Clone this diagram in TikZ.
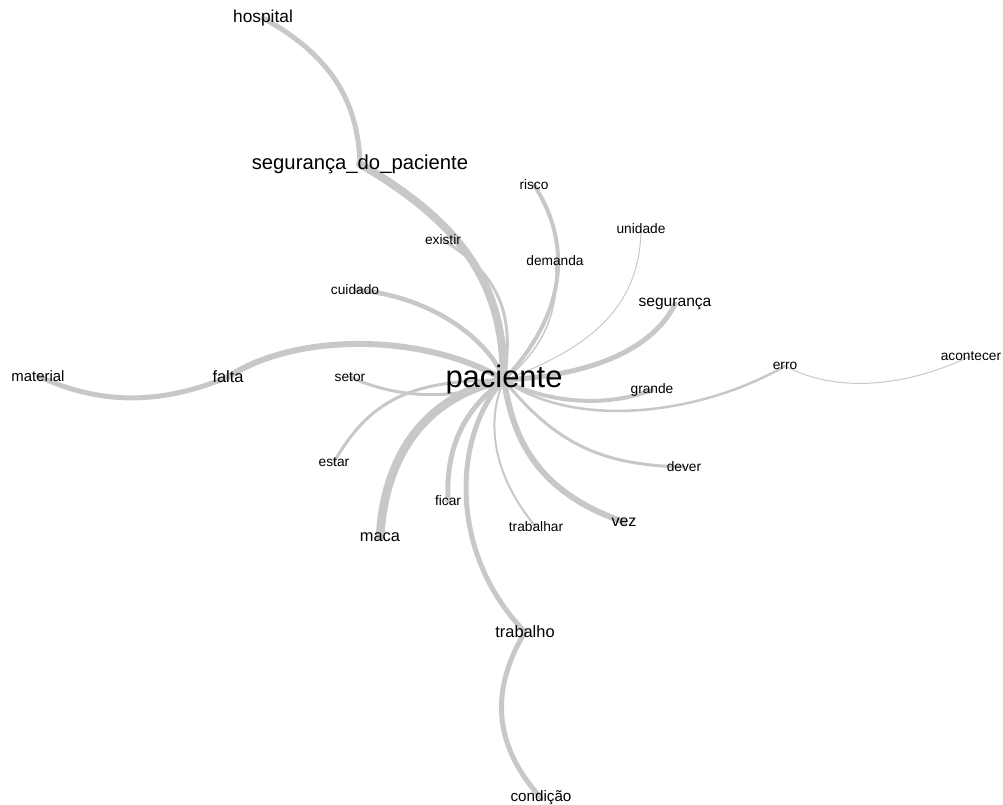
\documentclass[tikz,border=0pt]{standalone}
\usepackage{fontspec}
\setmainfont{Liberation Sans}
\usetikzlibrary{backgrounds}
\definecolor{edgegray}{RGB}{200,200,200}
\tikzset{
  lbl/.style={inner sep=0pt, text=black},
  fsmall/.style={lbl, font=\fontsize{10.3}{12}\selectfont},
  fmed/.style={lbl, font=\fontsize{12.3}{14}\selectfont},
  edge/.style={draw=edgegray, line cap=round, line join=round},
}
\begin{document}
\begin{tikzpicture}[x=0.75pt,y=-0.75pt]
\useasboundingbox (0,0) rectangle (1003,805);
% labels (vertices)
\node[lbl, font=\fontsize{13}{15}\selectfont] (hospital) at (263,18) {hospital};
\node[lbl, font=\fontsize{15.2}{17}\selectfont] (sdp) at (360,164) {segurança\_do\_paciente};
\node[fsmall] (risco) at (534,185) {risco};
\node[fsmall] (unidade) at (641,229) {unidade};
\node[fsmall] (existir) at (443,240) {existir};
\node[fsmall] (demanda) at (555,261) {demanda};
\node[fsmall] (cuidado) at (355,290) {cuidado};
\node[lbl, font=\fontsize{11.7}{14}\selectfont] (seguranca) at (675,304) {segurança};
\node[lbl, font=\fontsize{23.2}{26}\selectfont] (paciente) at (504,380) {paciente};
\node[lbl, font=\fontsize{11.2}{13}\selectfont] (material) at (38,376) {material};
\node[fmed] (falta) at (228,377) {falta};
\node[fsmall] (setor) at (350,377) {setor};
\node[fsmall] (grande) at (652,390) {grande};
\node[fsmall] (erro) at (785,366) {erro};
\node[fsmall] (acontecer) at (971,356) {acontecer};
\node[fsmall] (estar) at (334,462) {estar};
\node[fsmall] (dever) at (684,467) {dever};
\node[fsmall] (ficar) at (448,501) {ficar};
\node[fsmall] (trabalhar) at (536,527) {trabalhar};
\node[lbl, font=\fontsize{12}{14}\selectfont] (vez) at (624,522) {vez};
\node[fmed] (maca) at (380,537) {maca};
\node[fmed] (trabalho) at (525,632) {trabalho};
\node[lbl, font=\fontsize{11.4}{13}\selectfont] (condicao) at (541,798) {condição};
% edges
\begin{scope}[on background layer]
\draw[edge, line width=3.75pt] (hospital.center) .. controls (330,55) and (358,100) .. (sdp.center);
\draw[edge, line width=6pt] (sdp.center) .. controls (470,228) and (503,290) .. (paciente.center);
\draw[edge, line width=2.2pt] (existir.center) .. controls (500,275) and (515,315) .. (paciente.center);
\draw[edge, line width=3pt] (risco.center) .. controls (570,240) and (570,310) .. (paciente.center);
\draw[edge, line width=1.1pt] (demanda.center) .. controls (560,300) and (550,345) .. (paciente.center);
\draw[edge, line width=0.75pt] (unidade.center) .. controls (640,300) and (600,345) .. (paciente.center);
\draw[edge, line width=3.75pt] (seguranca.center) .. controls (655,345) and (600,375) .. (paciente.center);
\draw[edge, line width=3.4pt] (cuidado.center) .. controls (430,295) and (490,340) .. (paciente.center);
\draw[edge, line width=4.5pt] (falta.center) .. controls (300,330) and (430,335) .. (paciente.center);
\draw[edge, line width=3.75pt] (material.center) .. controls (100,405) and (160,405) .. (falta.center);
\draw[edge, line width=2.25pt] (setor.center) .. controls (400,400) and (460,400) .. (paciente.center);
\draw[edge, line width=2.25pt] (estar.center) .. controls (370,400) and (410,380) .. (paciente.center);
\draw[edge, line width=6.5pt] (maca.center) .. controls (385,450) and (430,395) .. (paciente.center);
\draw[edge, line width=3.75pt] (ficar.center) .. controls (445,440) and (470,405) .. (paciente.center);
\draw[edge, line width=3.75pt] (trabalho.center) .. controls (445,550) and (455,430) .. (paciente.center);
\draw[edge, line width=3.75pt] (trabalho.center) .. controls (490,690) and (493,745) .. (condicao.center);
\draw[edge, line width=1.5pt] (trabalhar.center) .. controls (488,470) and (488,415) .. (paciente.center);
\draw[edge, line width=4.5pt] (vez.center) .. controls (530,490) and (512,430) .. (paciente.center);
\draw[edge, line width=2.25pt] (dever.center) .. controls (610,465) and (560,450) .. (paciente.center);
\draw[edge, line width=3pt] (grande.center) .. controls (600,410) and (540,400) .. (paciente.center);
\draw[edge, line width=1.9pt] (erro.center) .. controls (700,415) and (575,430) .. (paciente.center);
\draw[edge, line width=0.75pt] (erro.center) .. controls (840,395) and (910,385) .. (acontecer.center);
\end{scope}
\end{tikzpicture}
\end{document}
